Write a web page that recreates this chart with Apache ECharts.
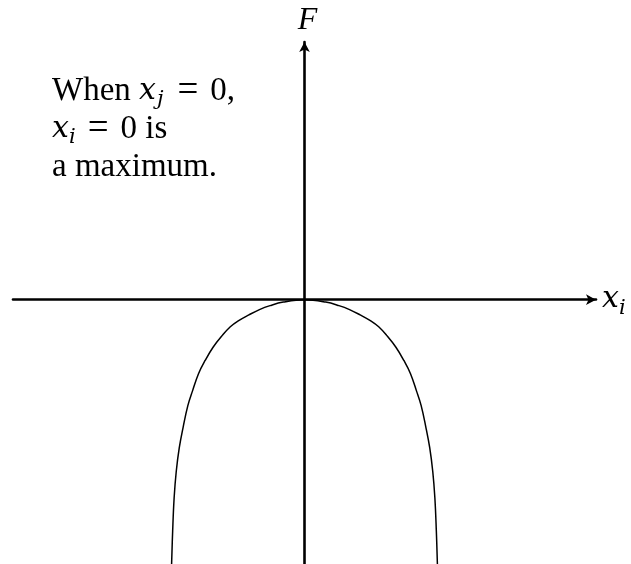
<!DOCTYPE html>
<html>
<head>
<meta charset="utf-8">
<script src="https://cdn.jsdelivr.net/npm/echarts@6/dist/echarts.min.js"></script>
<style>
  html, body { margin: 0; padding: 0; background: #fff; }
  #chart { width: 631px; height: 564px; }
</style>
</head>
<body>
<div id="chart"></div>
<script>
// Sampled points of F as a function of x_i (x_j held at 0)
const curveX = [-1.003, -0.995, -0.984, -0.968, -0.945, -0.915, -0.88, -0.845, -0.8, -0.75, -0.69, -0.62, -0.56, -0.5, -0.42, -0.34, -0.26, -0.16, 0,
                0.16, 0.26, 0.34, 0.42, 0.5, 0.56, 0.62, 0.69, 0.75, 0.8, 0.845, 0.88, 0.915, 0.945, 0.968, 0.984, 0.995, 1.003];
const curveF = [-2.0, -1.75, -1.5, -1.3, -1.12, -0.96, -0.8, -0.69, -0.56, -0.46, -0.36, -0.27, -0.205, -0.16, -0.115, -0.075, -0.045, -0.018, 0,
                -0.018, -0.045, -0.075, -0.115, -0.16, -0.205, -0.27, -0.36, -0.46, -0.56, -0.69, -0.8, -0.96, -1.12, -1.3, -1.5, -1.75, -2.0];

// Visible extent of the two axes
const xRange = [-2.2, 2.2];
const fRange = [-2.0, 1.95];

const note = 'When {i|x}{sj|j}{eq|=}{r|0,}\n{i|x}{s|i}{eq|=}{r|0 is}\na maximum.';

const SERIF = '"Liberation Serif", "DejaVu Serif", serif';
const MATH = '"DejaVu Serif", serif';
const richMath = {
  r: { fontFamily: SERIF, fontSize: 33, lineHeight: 38, fill: '#000', color: '#000' },
  i: { fontFamily: MATH, fontSize: 30, fontStyle: 'italic', lineHeight: 38, fill: '#000', color: '#000' },
  s: { fontFamily: MATH, fontSize: 21, fontStyle: 'italic', lineHeight: 22, verticalAlign: 'bottom', fill: '#000', color: '#000' },
  sj: { fontFamily: MATH, fontSize: 21, fontStyle: 'italic', lineHeight: 22, verticalAlign: 'bottom', padding: [0, 2, 0, 1], fill: '#000', color: '#000' },
  eq: { fontFamily: SERIF, fontSize: 37, lineHeight: 38, padding: [0, 12, 0, 12], fill: '#000', color: '#000' }
};

const chart = echarts.init(document.getElementById('chart'), null, { renderer: 'canvas' });

const axisLine = {
  onZero: true,
  symbol: ['none', 'arrow'],
  symbolSize: [8, 10],
  lineStyle: { color: '#000', width: 2.6 }
};

chart.setOption({
  backgroundColor: '#fff',
  animation: false,
  grid: { left: 13, right: 35, top: 42, bottom: 0, containLabel: false, outerBoundsMode: 'none' },
  xAxis: {
    type: 'value',
    min: xRange[0], max: xRange[1],
    axisLine: axisLine,
    axisTick: { show: false },
    axisLabel: { show: false },
    splitLine: { show: false },
    name: '{i|x}{s|i}',
    nameLocation: 'end',
    nameGap: 6,
    nameTextStyle: { fontFamily: SERIF, fontSize: 33, color: '#000', align: 'left', verticalAlign: 'middle', rich: richMath }
  },
  yAxis: {
    type: 'value',
    min: fRange[0], max: fRange[1],
    axisLine: axisLine,
    axisTick: { show: false },
    axisLabel: { show: false },
    splitLine: { show: false },
    name: 'F',
    nameLocation: 'end',
    nameGap: 5,
    nameTextStyle: { fontFamily: SERIF, fontSize: 32, fontStyle: 'italic', color: '#000', padding: [0, 0, 0, 6] }
  },
  series: [{
    type: 'line',
    data: curveX.map((x, k) => [x, curveF[k]]),
    smooth: 0.4,
    showSymbol: false,
    clip: true,
    lineStyle: { color: '#000', width: 1.5 }
  }],
  graphic: [{
    type: 'text',
    left: 52,
    top: 72,
    style: {
      text: note,
      fontFamily: SERIF,
      fontSize: 33,
      lineHeight: 38,
      fill: '#000',
      rich: richMath
    }
  }]
});
</script>
</body>
</html>
